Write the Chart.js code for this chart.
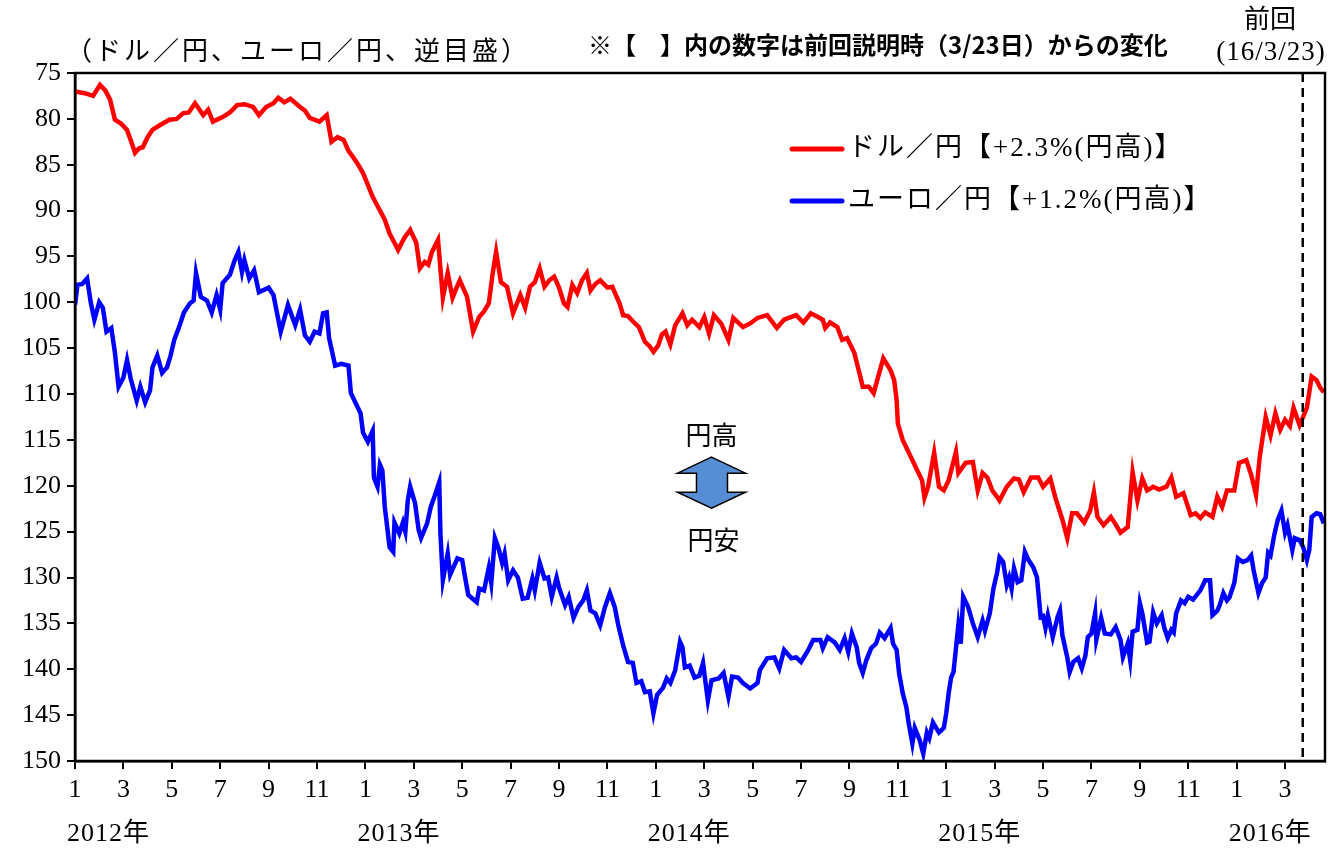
<!DOCTYPE html>
<html>
<head>
<meta charset="utf-8">
<script src="https://cdn.jsdelivr.net/npm/chart.js@4.4.1/dist/chart.umd.min.js"></script>
<style>
  body { margin: 0; background: #fff; }
  canvas { display: block; }
</style>
</head>
<body>
<canvas id="fxChart" width="1343" height="852"></canvas>
<script>
// x = months since Jan 2012 (0 = 2012/1, 12 = 2013/1 ...)
var usdX = [0,0.4,0.75,1.03,1.25,1.45,1.65,1.9,2.15,2.3,2.48,2.65,2.8,3.0,3.2,3.5,3.9,4.2,4.46,4.7,4.96,5.3,5.5,5.7,6.1,6.4,6.7,7.0,7.36,7.6,7.9,8.2,8.4,8.65,8.9,9.3,9.5,9.7,10.1,10.4,10.6,10.85,11.1,11.3,11.5,11.7,11.9,12.1,12.3,12.5,12.8,13.0,13.2,13.35,13.6,13.85,14.1,14.25,14.45,14.6,14.75,15.0,15.2,15.4,15.6,15.75,15.9,16.2,16.45,16.7,16.9,17.1,17.25,17.4,17.6,17.85,18.1,18.4,18.6,18.8,19.0,19.2,19.4,19.6,19.8,20.0,20.2,20.35,20.55,20.75,20.95,21.15,21.3,21.5,21.7,22.0,22.2,22.5,22.65,22.85,23.1,23.3,23.55,23.75,23.9,24.1,24.25,24.4,24.6,24.8,25.1,25.3,25.5,25.8,26.0,26.2,26.4,26.7,27.0,27.2,27.6,27.9,28.2,28.6,29.0,29.3,29.8,30.1,30.4,30.7,30.9,31.0,31.2,31.5,31.7,31.9,32.2,32.4,32.55,32.8,33.0,33.2,33.4,33.7,33.85,33.95,34.0,34.2,34.4,34.6,34.8,35.0,35.1,35.25,35.5,35.7,35.9,36.1,36.4,36.5,36.8,37.1,37.3,37.5,37.7,37.9,38.1,38.2,38.5,38.8,39.0,39.2,39.5,39.8,40.0,40.3,40.5,40.8,41.0,41.2,41.4,41.7,41.95,42.1,42.25,42.5,42.8,43.0,43.2,43.5,43.7,43.9,44.1,44.3,44.55,44.8,45.1,45.3,45.5,45.8,46.1,46.3,46.5,46.7,47.0,47.2,47.4,47.6,47.9,48.1,48.4,48.6,48.8,48.95,49.2,49.4,49.6,49.8,50.0,50.2,50.35,50.6,50.9,51.1,51.3,51.45,51.6];
var usdJpy = [77.0,77.2,77.5,76.3,76.9,77.9,80.1,80.5,81.2,82.3,83.7,83.2,83.1,82.0,81.2,80.7,80.1,80.0,79.4,79.3,78.3,79.6,79.0,80.3,79.8,79.3,78.5,78.4,78.7,79.6,78.7,78.3,77.7,78.2,77.8,78.7,79.1,79.9,80.3,79.6,82.5,82.0,82.3,83.5,84.2,85.0,85.9,87.2,88.5,89.5,91.0,92.5,93.5,94.3,93.0,92.1,93.5,96.3,95.6,95.9,94.5,93.2,99.5,96.8,99.5,98.5,97.6,99.4,103.2,101.6,101.0,100.1,97.0,94.5,97.8,98.3,101.2,99.2,100.6,98.3,97.8,96.3,98.3,97.6,97.2,98.4,100.1,100.5,98.1,99.0,97.6,96.8,98.7,98.0,97.6,98.4,98.3,100.1,101.4,101.5,102.2,102.7,104.3,104.8,105.4,104.7,103.5,103.2,104.6,102.5,101.2,102.5,101.9,102.7,101.6,103.4,101.4,102.3,104.1,101.7,102.7,102.3,101.7,101.4,102.8,101.9,101.4,102.2,101.2,101.6,101.9,102.8,102.2,102.7,104.1,103.9,105.5,107.6,109.2,109.2,109.9,108.0,106.1,107.4,108.5,110.7,113.2,115.0,116.1,117.2,118.3,119.4,121.3,120.1,116.4,120.1,120.5,119.4,116.3,118.6,117.5,117.4,120.5,118.6,119.1,120.5,121.2,121.6,120.1,119.2,119.3,120.7,119.1,119.1,120.1,119.2,121.2,123.7,125.7,123.0,123.0,124.0,122.7,120.7,123.4,124.3,123.4,124.2,125.1,124.5,118.5,121.6,119.2,120.5,120.1,120.4,120.1,119.1,121.2,120.8,123.2,123.0,123.5,122.9,123.4,121.2,122.3,120.5,120.5,117.5,117.2,118.8,121.0,116.9,112.5,114.5,112.1,113.9,112.8,113.5,111.5,113.4,111.5,108.1,108.5,109.3,109.8];

var eurX = [0,0.1,0.3,0.5,0.65,0.8,1.0,1.15,1.3,1.5,1.65,1.8,2.0,2.15,2.3,2.55,2.7,2.9,3.1,3.2,3.4,3.6,3.8,3.95,4.1,4.3,4.5,4.75,4.9,5.0,5.2,5.45,5.65,5.85,6.0,6.1,6.4,6.6,6.75,6.9,7.0,7.2,7.4,7.6,8.0,8.2,8.5,8.8,9.1,9.3,9.5,9.7,9.9,10.1,10.25,10.4,10.5,10.75,11.0,11.3,11.4,11.6,11.8,11.9,12.1,12.3,12.35,12.5,12.6,12.7,12.8,13.0,13.15,13.2,13.4,13.55,13.65,13.75,13.85,14.05,14.2,14.3,14.55,14.7,14.9,15.05,15.1,15.2,15.4,15.5,15.8,16.0,16.1,16.25,16.6,16.7,16.9,17.1,17.2,17.35,17.5,17.65,17.75,17.9,18.1,18.3,18.5,18.7,18.9,19.0,19.2,19.4,19.55,19.7,19.9,20.0,20.25,20.4,20.6,20.8,21.0,21.15,21.3,21.5,21.7,21.9,22.1,22.3,22.45,22.65,22.85,23.05,23.2,23.4,23.55,23.75,23.9,24.05,24.3,24.45,24.6,24.8,25.0,25.1,25.2,25.4,25.6,25.8,25.95,26.15,26.3,26.6,26.8,27.0,27.15,27.4,27.6,27.9,28.2,28.3,28.6,28.9,29.1,29.3,29.6,29.8,30.0,30.3,30.5,30.8,30.9,31.1,31.4,31.6,31.8,31.95,32.1,32.3,32.4,32.55,32.7,32.9,33.1,33.25,33.45,33.7,33.8,33.95,34.05,34.2,34.35,34.45,34.6,34.7,34.9,35.05,35.2,35.3,35.45,35.7,35.9,36.0,36.1,36.2,36.3,36.5,36.6,36.7,36.9,37.1,37.3,37.5,37.6,37.8,37.95,38.1,38.2,38.35,38.5,38.6,38.7,38.8,38.95,39.1,39.25,39.4,39.6,39.75,39.9,40.0,40.1,40.2,40.4,40.6,40.7,40.8,41.0,41.1,41.25,41.45,41.6,41.75,41.85,42.0,42.15,42.2,42.4,42.55,42.8,43.0,43.2,43.3,43.5,43.6,43.7,43.9,44.0,44.1,44.3,44.4,44.55,44.7,44.9,45.0,45.15,45.3,45.4,45.5,45.7,45.85,46.0,46.2,46.5,46.7,46.9,47.0,47.2,47.3,47.45,47.6,47.7,47.9,48.05,48.25,48.45,48.6,48.7,48.9,49.05,49.2,49.3,49.4,49.55,49.7,49.85,50.0,50.1,50.3,50.4,50.6,50.75,50.9,51.0,51.1,51.3,51.45,51.6];
var eurJpy = [100.3,98.1,98.0,97.4,100.0,101.9,100.0,100.6,103.2,102.8,105.5,109.2,108.2,106.3,108.3,110.7,109.2,110.9,109.6,107.1,105.8,107.7,107.1,105.8,104.1,102.7,101.1,100.1,99.8,96.8,99.4,99.8,101.1,99.2,100.8,97.9,97.0,95.4,94.5,96.7,95.4,97.4,96.5,98.9,98.4,99.2,103.2,100.3,102.5,100.8,103.6,104.3,103.2,103.4,101.2,101.1,103.9,106.9,106.7,106.9,109.9,111.0,112.1,114.2,115.2,114.0,119.1,120.1,117.7,118.3,122.3,126.7,127.2,124.0,125.2,124.0,125.0,121.6,120.1,121.9,124.8,125.7,124.1,122.3,120.8,119.6,125.2,130.3,127.4,129.7,127.9,128.1,129.7,131.9,132.7,131.2,131.4,128.9,130.6,125.7,126.8,128.4,127.4,130.3,129.2,130.0,132.3,132.2,130.1,131.4,128.4,130.1,130.0,132.1,130.0,131.1,133.0,132.1,134.4,133.2,132.5,131.4,133.6,133.9,135.2,133.2,131.7,133.2,135.2,137.4,139.2,139.3,141.5,141.3,142.5,142.4,144.8,142.8,142.0,141.0,141.5,140.1,137.0,137.6,139.8,139.6,140.9,140.7,139.3,143.4,141.2,141.0,140.4,143.0,140.8,140.9,141.5,142.1,141.5,140.1,138.8,138.7,139.9,137.9,138.8,138.7,139.2,137.9,136.8,136.8,137.7,136.5,137.1,137.9,136.6,138.1,136.1,137.6,139.3,140.4,139.0,137.7,137.2,136.0,136.6,135.5,137.2,137.9,140.4,142.6,144.1,145.9,148.1,146.4,147.7,149.2,146.9,147.5,145.8,146.9,146.4,144.8,142.6,140.9,140.3,135.2,137.2,132.1,133.2,135.0,136.5,134.7,135.8,133.9,131.2,129.5,127.8,128.3,130.8,130.0,131.2,129.0,130.5,130.3,127.2,128.1,128.9,130.0,134.3,134.2,135.5,134.1,136.5,134.3,133.6,136.3,138.7,140.3,139.2,138.8,139.9,138.5,136.5,136.1,133.9,136.8,134.4,136.1,136.2,135.4,136.8,138.7,137.2,139.0,135.9,135.7,132.8,133.9,137.1,137.0,133.8,135.0,134.1,135.4,136.6,135.7,136.0,133.9,132.5,132.8,132.1,132.4,131.4,130.3,130.3,134.1,133.6,133.0,131.7,132.5,132.2,130.6,127.9,128.3,128.1,127.6,129.2,131.7,130.6,130.0,127.3,127.6,125.4,123.7,122.7,125.1,124.3,127.0,125.7,125.9,126.7,128.1,127.0,123.4,123.0,123.1,124.1];

var monthTicks = ['1', '3', '5', '7', '9', '11'];
var yearLabels = ['2012年', '2013年', '2014年', '2015年', '2016年'];
var yearStarts = [0, 12, 24, 36, 48];
var prevDate = 50.73; // 2016/3/23
var seriesNames = ['ドル／円【+2.3%(円高)】', 'ユーロ／円【+1.2%(円高)】'];

var serif = "'Liberation Serif', 'Noto Sans CJK JP', serif";
var jp = "'Noto Sans CJK JP', sans-serif";

function toPoints(xs, ys) {
  var pts = [];
  for (var i = 0; i < xs.length; i++) {
    pts.push({x: xs[i], y: ys[i]});
  }
  return pts;
}

var extras = {
  id: 'extras',
  afterDatasetsDraw: function(chart) {
    var ctx = chart.ctx;
    var xs = chart.scales.x, ys = chart.scales.y;
    var area = chart.chartArea;
    ctx.save();

    // previous release marker
    var px = xs.getPixelForValue(prevDate);
    ctx.strokeStyle = '#000';
    ctx.lineWidth = 2.5;
    ctx.setLineDash([9, 6]);
    ctx.beginPath();
    ctx.moveTo(px, area.top);
    ctx.lineTo(px, area.bottom);
    ctx.stroke();
    ctx.setLineDash([]);

    // frame
    ctx.lineWidth = 2.5;
    ctx.strokeRect(area.left, area.top, area.right - area.left, area.bottom - area.top);

    // year labels
    ctx.fillStyle = '#000';
    ctx.font = '26px ' + serif;
    ctx.textAlign = 'left';
    ctx.textBaseline = 'middle';
    ctx.letterSpacing = '1px';
    for (var i = 0; i < yearLabels.length; i++) {
      ctx.fillText(yearLabels[i], xs.getPixelForValue(yearStarts[i]) - 8, area.bottom + 73);
    }

    // titles
    ctx.font = '26px ' + jp;
    ctx.letterSpacing = '3px';
    ctx.fillText('（ドル／円、ユーロ／円、逆目盛）', 66, 50);
    ctx.letterSpacing = '0px';
    ctx.font = 'bold 24px ' + jp;
    ctx.fillText('※【　】内の数字は前回説明時（3/23日）からの変化', 588, 45);
    ctx.textAlign = 'center';
    ctx.font = '26px ' + jp;
    ctx.fillText('前回', 1270, 18);
    ctx.font = '27px ' + serif;
    ctx.letterSpacing = '1px';
    ctx.fillText('(16/3/23)', 1271, 53);

    // legend
    var colors = ['#ff0000', '#0000ff'];
    var ly = [149, 201];
    ctx.lineCap = 'round';
    ctx.textAlign = 'left';
    ctx.font = '27px ' + serif;
    ctx.letterSpacing = '2px';
    for (var k = 0; k < 2; k++) {
      ctx.strokeStyle = colors[k];
      ctx.lineWidth = 5;
      ctx.beginPath();
      ctx.moveTo(792, ly[k]);
      ctx.lineTo(842, ly[k]);
      ctx.stroke();
      ctx.fillText(seriesNames[k], 848, ly[k]);
    }
    ctx.letterSpacing = '0px';

    // yen up / down arrow
    var cx = xs.getPixelForValue(26.3);
    var cy = ys.getPixelForValue(119.6);
    ctx.font = '26px ' + jp;
    ctx.textAlign = 'center';
    ctx.fillText('円高', cx, cy - 47);
    ctx.fillText('円安', cx + 2, cy + 58);
    ctx.beginPath();
    ctx.moveTo(cx, cy - 25);
    ctx.lineTo(cx + 34, cy - 9);
    ctx.lineTo(cx + 16, cy - 9);
    ctx.lineTo(cx + 16, cy + 10);
    ctx.lineTo(cx + 34, cy + 10);
    ctx.lineTo(cx, cy + 26);
    ctx.lineTo(cx - 34, cy + 10);
    ctx.lineTo(cx - 15, cy + 10);
    ctx.lineTo(cx - 15, cy - 9);
    ctx.lineTo(cx - 34, cy - 9);
    ctx.closePath();
    ctx.fillStyle = '#558ed5';
    ctx.fill();
    ctx.strokeStyle = '#000';
    ctx.lineWidth = 1.5;
    ctx.lineCap = 'butt';
    ctx.stroke();

    ctx.restore();
  }
};

var ctx = document.getElementById('fxChart');
var myChart = new Chart(ctx, {
  type: 'line',
  data: {
    datasets: [{
      label: seriesNames[0],
      data: toPoints(usdX, usdJpy),
      borderColor: '#ff0000',
      borderWidth: 4.5,
      pointRadius: 0,
      tension: 0,
      fill: false
    }, {
      label: seriesNames[1],
      data: toPoints(eurX, eurJpy),
      borderColor: '#0000ff',
      borderWidth: 4.5,
      pointRadius: 0,
      tension: 0,
      fill: false
    }]
  },
  options: {
    responsive: false,
    animation: false,
    events: [],
    layout: { padding: { left: 0, top: 73, right: 18, bottom: 0 } },
    plugins: {
      legend: { display: false },
      tooltip: { enabled: false }
    },
    scales: {
      x: {
        type: 'linear',
        min: 0,
        max: 51.65,
        afterFit: function(scale) { scale.height = 91; },
        grid: { drawOnChartArea: false, drawTicks: true, tickLength: 8, color: '#000', lineWidth: 2 },
        border: { display: true, color: '#000', width: 2.5 },
        ticks: {
          stepSize: 2,
          includeBounds: false,
          autoSkip: false,
          maxRotation: 0,
          padding: 6,
          color: '#000',
          font: { family: serif, size: 26 },
          callback: function(v) {
            return monthTicks[(v % 12) / 2];
          }
        }
      },
      y: {
        reverse: true,
        min: 75,
        max: 150,
        afterFit: function(scale) { scale.width = 75; },
        grid: { drawOnChartArea: false, drawTicks: true, tickLength: 8, color: '#000', lineWidth: 2 },
        border: { display: true, color: '#000', width: 2.5 },
        ticks: {
          stepSize: 5,
          padding: 6,
          color: '#000',
          font: { family: serif, size: 26 }
        }
      }
    }
  },
  plugins: [extras]
});
</script>
</body>
</html>
